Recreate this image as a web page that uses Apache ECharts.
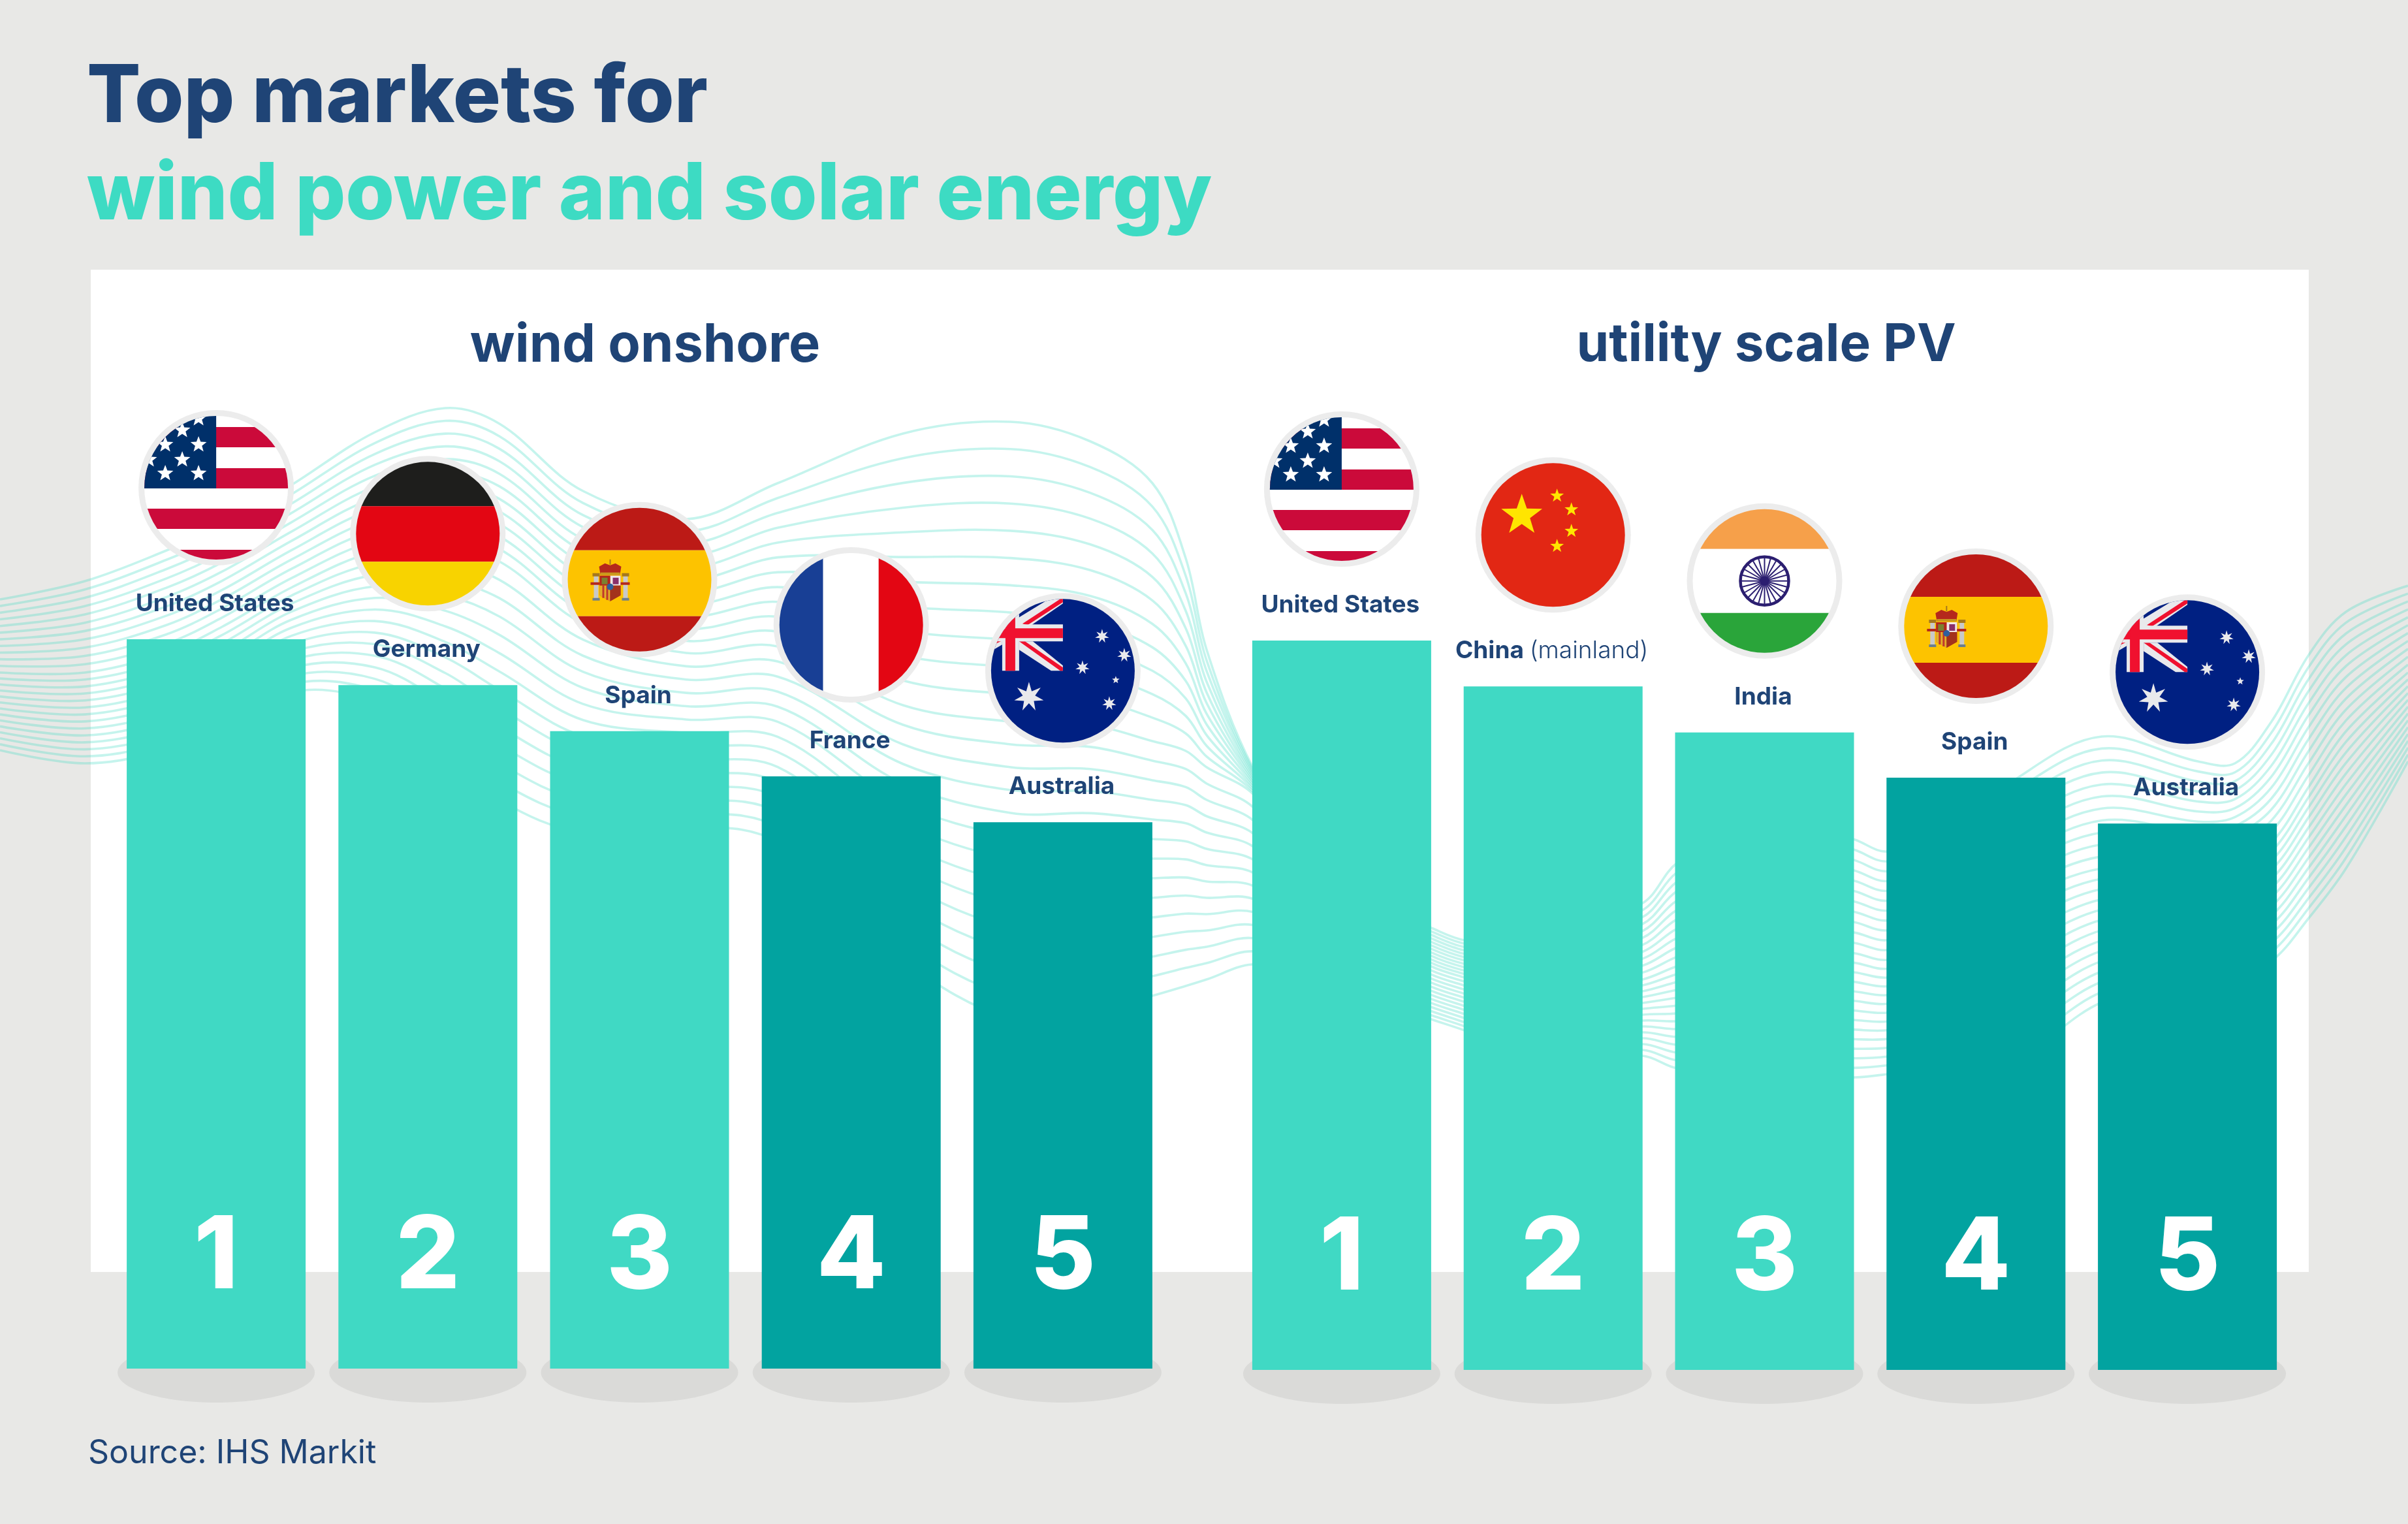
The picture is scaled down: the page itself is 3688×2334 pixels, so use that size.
<!DOCTYPE html>
<html>
<head>
<meta charset="utf-8">
<title>Top markets for wind power and solar energy</title>
<script src="https://cdn.jsdelivr.net/npm/echarts@6/dist/echarts.min.js"></script>
<style>
  html, body { margin: 0; padding: 0; background: #e8e8e6; }
  #main { width: 3688px; height: 2334px; }
</style>
</head>
<body>
<div id="main"></div>
<script>
// categories and bar heights (no axis in the picture, tallest bar = 100)
var windCountries = ['United States', 'Germany', 'Spain', 'France', 'Australia'];
var windValues = [100, 93.7, 87.4, 81.2, 74.9];
var pvCountries = ['United States', 'China (mainland)', 'India', 'Spain', 'Australia'];
var pvValues = [100, 93.7, 87.4, 81.2, 74.9];
var ranks = ['1', '2', '3', '4', '5'];

// background ribbon guide curves, only decoration
var waveX = [0, 130, 255, 340, 446, 574, 682, 765, 893, 1051, 1191, 1383, 1548, 1670, 1765, 1816, 1848, 1918, 2000, 2100, 2192, 2243, 2360, 2516, 2568, 2700, 2841, 2891, 3000, 3089, 3219, 3366, 3423, 3479, 3536, 3593, 3688];
var waveTop = [918, 890, 843, 805, 743, 662, 625, 649, 752, 795, 740, 664, 646, 676, 740, 855, 995, 1174, 1290, 1380, 1421, 1440, 1450, 1383, 1322, 1240, 1286, 1304, 1270, 1192, 1128, 1166, 1169, 1105, 1003, 937, 897];
var waveMid = [1030, 1030, 1000, 960, 900, 845, 840, 860, 955, 1000, 990, 1080, 1105, 1110, 1135, 1150, 1175, 1215, 1320, 1430, 1480, 1497, 1530, 1500, 1480, 1440, 1460, 1470, 1440, 1380, 1330, 1335, 1320, 1290, 1205, 1120, 1030];
var waveBottom = [1149, 1169, 1150, 1125, 1060, 1075, 1150, 1225, 1275, 1265, 1290, 1470, 1560, 1550, 1525, 1510, 1500, 1477, 1490, 1530, 1561, 1578, 1620, 1617, 1636, 1650, 1650, 1645, 1630, 1620, 1535, 1500, 1495, 1472, 1406, 1330, 1166];

var NAVY = '#1f4476';
var TEAL = '#40d9c4';
var DARK_TEAL = '#02a3a0';
var FONT = 'Inter';

function rect(x, y, w, h, fill) {
  return { type: 'rect', shape: { x: x, y: y, width: w, height: h }, style: { fill: fill } };
}

function poly(points, fill) {
  return { type: 'polygon', shape: { points: points }, style: { fill: fill } };
}

function star(cx, cy, r, n, inner, fill) {
  var pts = [];
  for (var i = 0; i < n * 2; i++) {
    var rad = i % 2 ? r * inner : r;
    var a = -Math.PI / 2 + i * Math.PI / n;
    pts.push([cx + rad * Math.cos(a), cy + rad * Math.sin(a)]);
  }
  return poly(pts, fill);
}

function bands(list) {
  return list.map(function (b) { return rect(-120, b[0], 240, b[1] - b[0], b[2]); });
}

function usFlag() {
  var red = '#cb0a3a', blue = '#00306a';
  var out = [rect(-120, -120, 240, 240, '#fff')].concat(bands([
    [-93, -62, red], [-30, 1, red], [32, 63, red], [95, 120, red]
  ]));
  out.push(rect(-120, -120, 120, 121, blue));
  [[-27, -106], [-52, -88], [-27, -66], [-78, -66], [-52, -43], [-103, -43], [-27, -22], [-78, -22]].forEach(function (p) {
    out.push(star(p[0], p[1], 13, 5, 0.42, '#fff'));
  });
  return out;
}

function germanFlag() {
  return bands([[-120, -42, '#1e1e1c'], [-42, 43, '#e30613'], [43, 120, '#f8d300']]);
}

function spanishFlag() {
  var out = bands([[-120, -45, '#bc1a16'], [-45, 56, '#fdc300'], [56, 120, '#bc1a16']]);
  // pillars
  out.push(rect(-70, -6, 7, 36, '#c9c9c9'), rect(-25, -6, 7, 36, '#c9c9c9'));
  out.push(rect(-72, -10, 11, 5, '#a5781e'), rect(-27, -10, 11, 5, '#a5781e'));
  out.push(rect(-72, 28, 11, 4, '#6d7f8c'), rect(-27, 28, 11, 4, '#6d7f8c'));
  // crown
  out.push(poly([[-60, -8], [-62, -20], [-53, -25], [-45, -22], [-37, -25], [-28, -20], [-30, -8]], '#b5281c'));
  out.push(rect(-60, -11, 30, 4, '#c8971e'));
  out.push(rect(-46, -31, 2, 8, '#a5781e'));
  // shield
  out.push(poly([[-61, -6], [-29, -6], [-29, 24], [-45, 33], [-61, 24]], '#c0392b'));
  out.push(rect(-45, -6, 16, 15, '#f0e8e8'));
  out.push(rect(-41, -3, 9, 10, '#8a2f6a'));
  out.push(rect(-61, -6, 16, 15, '#b3261c'));
  out.push(rect(-58, -3, 9, 10, '#7a8030'));
  out.push(poly([[-61, 9], [-45, 9], [-45, 33], [-61, 24]], '#e3b02a'));
  out.push(rect(-57, 9, 3, 19, '#c0392b'), rect(-51, 9, 3, 22, '#c0392b'));
  out.push(poly([[-45, 9], [-29, 9], [-29, 24], [-45, 33]], '#a3331c'));
  out.push({ type: 'circle', shape: { cx: -45, cy: 11, r: 5 }, style: { fill: '#2f5f9e' } });
  // ribbons
  out.push(rect(-75, 4, 14, 4, '#b5281c'), rect(-29, 4, 14, 4, '#b5281c'));
  return out;
}

function frenchFlag() {
  return [rect(-120, -120, 77, 240, '#183f95'), rect(-43, -120, 85, 240, '#fff'), rect(42, -120, 78, 240, '#e30613')];
}

function australianFlag() {
  var white = '#e9e9ec', red = '#f0112f';
  var out = [rect(-120, -120, 240, 240, '#002082')];
  // saltire, clipped to the canton by its own corners
  out.push(poly([[-21, -110], [0, -110], [0, -103], [-67, -57], [-93, -57], [-93, -66]], white));
  out.push(poly([[-4, -110], [0, -110], [0, -105], [-54, -70], [-62, -72]], red));
  out.push(poly([[-67, -45], [-46, -45], [0, -8], [0, 0], [-18, 0], [-67, -32]], white));
  out.push(poly([[-67, -45], [-58, -45], [0, -5], [0, 0], [-4, 0]], red));
  out.push(poly([[-120, -40], [-93, -57], [-93, -40], [-110, -30]], white));
  out.push(poly([[-120, -42], [-100, -52], [-93, -50], [-93, -46], [-115, -36]], red));
  // st george cross
  out.push(rect(-120, -71, 120, 26, white), rect(-93, -120, 26, 120, white));
  out.push(rect(-120, -65, 120, 15, red), rect(-88, -120, 15, 120, red));
  [[-52, 40, 23, 7], [60, -53, 11, 7], [94, -24, 11, 7], [30, -5, 11, 7], [71, 50, 11, 7], [81, 14, 6, 5]].forEach(function (s) {
    out.push(star(s[0], s[1], s[2], s[3], 0.42, white));
  });
  return out;
}

function chineseFlag() {
  var yellow = '#ffe500';
  return [
    rect(-120, -120, 240, 240, '#e22714'),
    star(-48, -30, 33, 5, 0.4, yellow),
    star(6, -60, 11, 5, 0.4, yellow),
    star(28, -39, 11, 5, 0.4, yellow),
    star(28, -6, 11, 5, 0.4, yellow),
    star(6, 17, 11, 5, 0.4, yellow)
  ];
}

function indianFlag() {
  var navy = '#2b1e70';
  var out = bands([[-120, -49, '#f6a04a'], [-49, 49, '#ffffff'], [49, 120, '#2aa53a']]);
  out.push({ type: 'circle', shape: { cx: 0, cy: 0, r: 37 }, style: { fill: '#fff', stroke: navy, lineWidth: 4.5 } });
  for (var i = 0; i < 24; i++) {
    var a = i * Math.PI / 12;
    out.push({ type: 'line', shape: { x1: 0, y1: 0, x2: 36 * Math.cos(a), y2: 36 * Math.sin(a) }, style: { stroke: navy, lineWidth: 2 } });
  }
  out.push({ type: 'circle', shape: { cx: 0, cy: 0, r: 7 }, style: { fill: navy } });
  return out;
}

var flags = {
  'United States': usFlag,
  'Germany': germanFlag,
  'Spain': spanishFlag,
  'France': frenchFlag,
  'Australia': australianFlag,
  'China (mainland)': chineseFlag,
  'India': indianFlag
};

// flag and country name sit above each bar, positioned from the bar's top
function renderFlag(params, api) {
  var top = api.coord([api.value(0), api.value(1)]);
  var name = params.seriesName === 'windFlags' ? windCountries[params.dataIndex] : pvCountries[params.dataIndex];
  var isChina = name.indexOf('(') > 0;
  return {
    type: 'group',
    children: [
      { type: 'circle', shape: { cx: top[0], cy: top[1] - 232, r: 119 }, style: { fill: '#ececec' } },
      {
        type: 'group',
        x: top[0],
        y: top[1] - 232,
        clipPath: { type: 'circle', shape: { cx: 0, cy: 0, r: 110 } },
        children: flags[name]()
      },
      {
        type: 'text',
        x: top[0] - 2,
        y: top[1] - 54,
        style: {
          text: isChina ? '{b|China} {l|(mainland)}' : name,
          fontFamily: FONT,
          fontSize: 37,
          fontWeight: 700,
          fill: NAVY,
          align: 'center',
          verticalAlign: 'middle',
          rich: isChina ? {
            b: { fontFamily: FONT, fontSize: 37, fontWeight: 700, fill: NAVY },
            l: { fontFamily: FONT, fontSize: 37, fontWeight: 300, fill: NAVY }
          } : undefined
        }
      }
    ]
  };
}

// grey floor shadow under each bar
function renderShadow(params, api) {
  var base = api.coord([api.value(0), 0]);
  return { type: 'ellipse', shape: { cx: base[0], cy: base[1] + 6, rx: 151, ry: 46 }, style: { fill: '#dadad8' } };
}

function toPairs(names, values) {
  return values.map(function (v, i) { return [names[i], v]; });
}

function barSeries(name, axisIndex, values) {
  return {
    name: name,
    type: 'bar',
    xAxisIndex: axisIndex,
    yAxisIndex: axisIndex,
    barWidth: 274,
    z: 3,
    silent: true,
    data: values,
    itemStyle: {
      color: function (p) { return p.dataIndex < 3 ? TEAL : DARK_TEAL; }
    },
    label: {
      show: true,
      position: 'insideBottom',
      distance: 92,
      formatter: function (p) { return ranks[p.dataIndex]; },
      color: '#fff',
      fontFamily: FONT,
      fontWeight: 800,
      fontSize: 154
    }
  };
}

function customSeries(name, axisIndex, names, values, render, z) {
  return {
    name: name,
    type: 'custom',
    xAxisIndex: axisIndex,
    yAxisIndex: axisIndex,
    z: z,
    silent: true,
    clip: false,
    encode: { x: 0, y: 1 },
    data: toPairs(names, values),
    renderItem: render
  };
}

function hiddenCategory(names, gridIndex) {
  return { type: 'category', gridIndex: gridIndex, data: names, show: false };
}

function hiddenValue(gridIndex) {
  return { type: 'value', gridIndex: gridIndex, min: 0, max: 100, show: false };
}

// ribbon lines sit between the guide curves
var waveGraphics = [];
function addWave(upper, lower, count, skipFirst) {
  for (var n = skipFirst ? 1 : 0; n < count; n++) {
    var t = n / (count - 1);
    waveGraphics.push({
      type: 'polyline',
      z: -5,
      silent: true,
      shape: {
        smooth: 0.35,
        points: waveX.map(function (x, i) { return [x, upper[i] + (lower[i] - upper[i]) * t]; })
      },
      style: { fill: null, stroke: 'rgba(64,217,196,0.3)', lineWidth: 3.6 }
    });
  }
}
addWave(waveTop, waveMid, 12, false);
addWave(waveMid, waveBottom, 14, true);

var chart = echarts.init(document.getElementById('main'), null, { renderer: 'canvas' });

chart.setOption({
  animation: false,
  backgroundColor: '#e8e8e6',
  title: [
    { text: 'Top markets for', left: 128, top: 84, textStyle: { fontFamily: FONT, fontSize: 122, fontWeight: 800, color: NAVY } },
    { text: 'wind power and solar energy', left: 128, top: 234, textStyle: { fontFamily: FONT, fontSize: 121, fontWeight: 800, color: '#3ddbc3' } },
    { text: 'wind onshore', left: 983, textAlign: 'center', top: 484, textStyle: { fontFamily: FONT, fontSize: 81, fontWeight: 700, color: NAVY } },
    { text: 'utility scale PV', left: 2700, textAlign: 'center', top: 484, textStyle: { fontFamily: FONT, fontSize: 80, fontWeight: 700, color: NAVY } },
    { text: 'Source: IHS Markit', left: 130, top: 2196, textStyle: { fontFamily: FONT, fontSize: 50, fontWeight: 400, color: NAVY } }
  ],
  graphic: [
    { type: 'rect', z: -10, silent: true, shape: { x: 139, y: 413, width: 3397, height: 1535 }, style: { fill: '#fff' } }
  ].concat(waveGraphics),
  grid: [
    { left: 169, top: 979, width: 1621, height: 1117 },
    { left: 1893, top: 981, width: 1619, height: 1117 }
  ],
  xAxis: [hiddenCategory(windCountries, 0), hiddenCategory(pvCountries, 1)],
  yAxis: [hiddenValue(0), hiddenValue(1)],
  series: [
    customSeries('windShadows', 0, windCountries, windValues, renderShadow, 2),
    customSeries('pvShadows', 1, pvCountries, pvValues, renderShadow, 2),
    barSeries('wind onshore', 0, windValues),
    barSeries('utility scale PV', 1, pvValues),
    customSeries('windFlags', 0, windCountries, windValues, renderFlag, 6),
    customSeries('pvFlags', 1, pvCountries, pvValues, renderFlag, 6)
  ]
});
</script>
</body>
</html>
